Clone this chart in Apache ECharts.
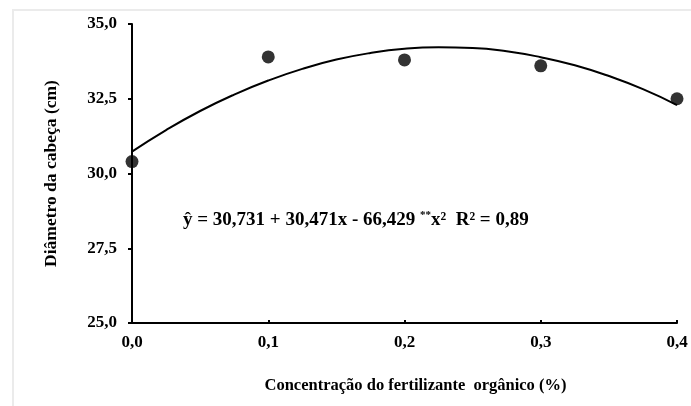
<!DOCTYPE html>
<html>
<head>
<meta charset="utf-8">
<script src="https://cdn.jsdelivr.net/npm/echarts@6/dist/echarts.min.js"></script>
<style>
html,body{margin:0;padding:0;background:#fff;}
#frame{position:absolute;left:12px;top:9px;width:679px;height:397px;border-top:2px solid #ebebeb;border-left:2px solid #ebebeb;box-sizing:border-box;}
#chart{position:absolute;left:0;top:0;width:691px;height:406px;}
</style>
</head>
<body>
<div id="frame"></div>
<div id="chart"></div>
<script>
// Observed points
var obsX = [0.0, 0.1, 0.2, 0.3, 0.4];
var obsY = [30.4, 33.9, 33.8, 33.6, 32.5];
// Fitted curve
var fitX = [0.0, 0.025, 0.05, 0.075, 0.1, 0.125, 0.15, 0.175, 0.2, 0.225, 0.25, 0.275, 0.3, 0.325, 0.35, 0.375, 0.4];
var fitY = [30.73, 31.45, 32.09, 32.64, 33.11, 33.50, 33.81, 34.03, 34.17, 34.22, 34.20, 34.09, 33.89, 33.62, 33.26, 32.82, 32.29];
var yTicks = [25.0, 27.5, 30.0, 32.5, 35.0];
var xTicks = [0.0, 0.1, 0.2, 0.3, 0.4];
var yTitle = 'Diâmetro da cabeça (cm)';
var xTitle = 'Concentração do fertilizante  orgânico (%)';

var font = '"Liberation Serif", "Times New Roman", serif';
var chart = echarts.init(document.getElementById('chart'), null, {renderer: 'canvas'});

function pairs(xs, ys){ return xs.map(function(x,i){ return [x, ys[i]]; }); }
function fmt(v){ return v.toFixed(1).replace('.', ','); }

chart.setOption({
  animation: false,
  backgroundColor: 'transparent',
  grid: {left: 132, right: 14, top: 24, bottom: 83, containLabel: false},
  xAxis: {
    type: 'value', min: xTicks[0], max: xTicks[xTicks.length-1], interval: 0.1,
    axisLine: {show: true, lineStyle: {color: '#000', width: 2}},
    axisTick: {show: true, inside: true, length: 3, lineStyle: {color: '#000', width: 2}},
    splitLine: {show: false},
    axisLabel: {color: '#000', fontFamily: font, fontWeight: 'bold', fontSize: 17, margin: 11, formatter: fmt},
    name: xTitle, nameLocation: 'middle', nameGap: 54,
    nameTextStyle: {color: '#000', fontFamily: font, fontWeight: 'bold', fontSize: 16.5, padding: [0, 0, 0, 22]}
  },
  yAxis: {
    type: 'value', min: yTicks[0], max: yTicks[yTicks.length-1], interval: 2.5,
    axisLine: {show: true, lineStyle: {color: '#000', width: 2}},
    axisTick: {show: true, inside: false, length: 4, lineStyle: {color: '#000', width: 2}},
    splitLine: {show: false},
    axisLabel: {color: '#000', fontFamily: font, fontWeight: 'bold', fontSize: 17, margin: 15, formatter: fmt},
    name: yTitle, nameLocation: 'middle', nameGap: 72, nameRotate: 90,
    nameTextStyle: {color: '#000', fontFamily: font, fontWeight: 'bold', fontSize: 17.5}
  },
  series: [
    {
      type: 'line', data: pairs(fitX, fitY), smooth: true, showSymbol: false,
      lineStyle: {color: '#000', width: 2}, z: 2
    },
    {
      type: 'scatter', data: pairs(obsX, obsY), symbol: 'circle', symbolSize: 13,
      itemStyle: {color: '#000'}, z: 3
    }
  ],
  graphic: [{
    type: 'text', left: 183, top: 210,
    style: {
      text: '{a|ŷ = 30,731 + 30,471x - 66,429 }{s|**}{a|x²  R² = 0,89}',
      rich: {
        a: {fontFamily: font, fontWeight: 'bold', fontSize: 19, fill: '#000', color: '#000'},
        s: {fontFamily: font, fontWeight: 'bold', fontSize: 11, fill: '#000', color: '#000', padding: [0,0,10,0]}
      }
    }
  }]
});
</script>
</body>
</html>
